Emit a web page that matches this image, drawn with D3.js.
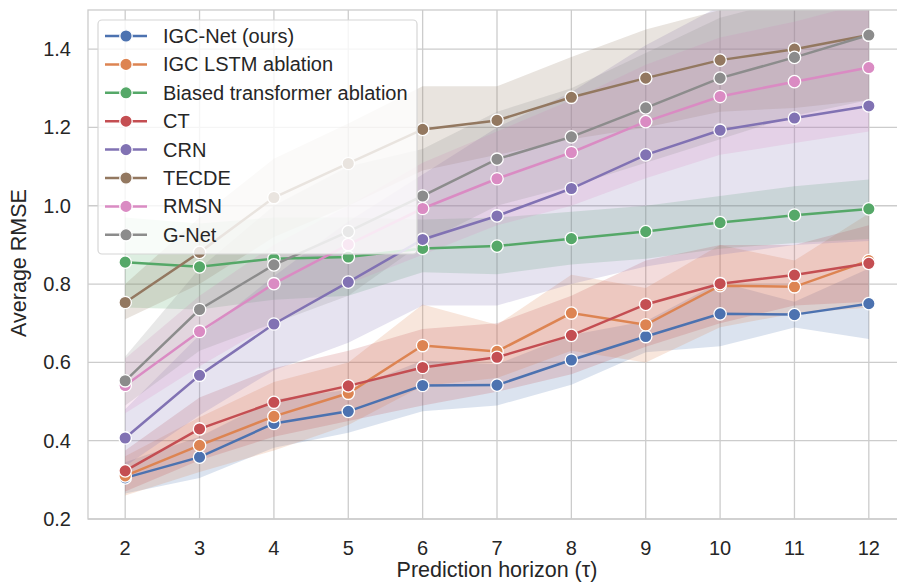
<!DOCTYPE html>
<html>
<head>
<meta charset="utf-8">
<script src="https://cdn.jsdelivr.net/npm/d3@7"></script>
<style>
body{margin:0;background:#fff}
text{font-family:"Liberation Sans",Arial,sans-serif;fill:#262626}
</style>
</head>
<body>
<div id="chart"></div>
<script>
"use strict"
var horizons=[2,3,4,5,6,7,8,9,10,11,12]
var yTicks=[0.2,0.4,0.6,0.8,1.0,1.2,1.4]
var names=["IGC-Net (ours)","IGC LSTM ablation","Biased transformer ablation","CT","CRN","TECDE","RMSN","G-Net"]
var colors=["#4c72b0","#dd8452","#55a868","#c44e52","#8172b3","#937860","#da8bc3","#8c8c8c"]

// mean RMSE per horizon
var igcNet=[0.305,0.358,0.444,0.475,0.541,0.542,0.606,0.666,0.724,0.722,0.750]
var igcLstm=[0.31,0.388,0.462,0.521,0.643,0.628,0.726,0.696,0.796,0.793,0.86]
var biasedTr=[0.856,0.844,0.865,0.869,0.891,0.897,0.916,0.934,0.957,0.976,0.992]
var ct=[0.323,0.43,0.498,0.54,0.587,0.613,0.669,0.748,0.801,0.823,0.853]
var crn=[0.407,0.567,0.698,0.805,0.914,0.974,1.044,1.130,1.193,1.224,1.255]
var tecde=[0.753,0.881,1.021,1.108,1.195,1.218,1.277,1.326,1.372,1.400,1.436]
var rmsn=[0.541,0.679,0.801,0.901,0.993,1.069,1.136,1.215,1.279,1.317,1.353]
var gnet=[0.553,0.735,0.849,0.934,1.025,1.119,1.176,1.250,1.326,1.379,1.436]

// confidence band edges
var igcNetLo=[0.265,0.305,0.382,0.42,0.475,0.49,0.543,0.626,0.641,0.689,0.66]
var igcNetHi=[0.345,0.41,0.505,0.53,0.605,0.595,0.67,0.705,0.805,0.755,0.84]
var igcLstmLo=[0.26,0.32,0.375,0.44,0.54,0.56,0.63,0.6,0.69,0.725,0.74]
var igcLstmHi=[0.36,0.46,0.55,0.6,0.748,0.696,0.824,0.79,0.9,0.86,0.98]
var biasedTrLo=[0.74,0.735,0.76,0.77,0.83,0.825,0.85,0.865,0.89,0.905,0.915]
var biasedTrHi=[0.97,0.955,0.97,0.97,0.965,0.97,0.985,1.0,1.025,1.05,1.067]
var ctLo=[0.27,0.35,0.41,0.45,0.49,0.525,0.57,0.64,0.7,0.745,0.755]
var ctHi=[0.375,0.51,0.585,0.63,0.685,0.7,0.77,0.86,0.9,0.9,0.95]
var crnLo=[0.335,0.465,0.58,0.65,0.745,0.745,0.8,0.845,0.875,0.9,0.91]
var crnHi=[0.48,0.67,0.82,0.96,1.08,1.2,1.29,1.41,1.51,1.55,1.6]
var tecdeLo=[0.71,0.8,0.92,1.0,1.09,1.13,1.17,1.2,1.24,1.25,1.27]
var tecdeHi=[0.8,0.97,1.12,1.21,1.305,1.305,1.38,1.45,1.5,1.55,1.6]
var rmsnLo=[0.47,0.59,0.7,0.8,0.875,0.95,1.0,1.07,1.13,1.16,1.19]
var rmsnHi=[0.61,0.77,0.9,1.0,1.11,1.19,1.27,1.36,1.43,1.47,1.52]
var gnetLo=[0.49,0.63,0.7,0.77,0.905,1.0,1.05,1.11,1.17,1.23,1.27]
var gnetHi=[0.615,0.84,1.0,1.1,1.145,1.24,1.3,1.39,1.48,1.53,1.6]

var means=[igcNet,igcLstm,biasedTr,ct,crn,tecde,rmsn,gnet]
var lows=[igcNetLo,igcLstmLo,biasedTrLo,ctLo,crnLo,tecdeLo,rmsnLo,gnetLo]
var highs=[igcNetHi,igcLstmHi,biasedTrHi,ctHi,crnHi,tecdeHi,rmsnHi,gnetHi]

var W=897,H=584
var pLeft=88,pRight=906,pTop=10,pBottom=519

var svg=d3.select('#chart').append('svg').attr('width',W).attr('height',H)

var x=d3.scaleLinear().domain([1.5,12.5]).range([pLeft,pRight])
var y=d3.scaleLinear().domain([0.2,1.5]).range([pBottom,pTop])

svg.append('clipPath').attr('id','plotclip').append('rect')
  .attr('x',pLeft).attr('y',pTop).attr('width',pRight-pLeft).attr('height',pBottom-pTop)

// grid
var grid=svg.append('g')
grid.selectAll('.gx').data(horizons).enter().append('line')
  .attr('x1',d=>x(d)).attr('x2',d=>x(d)).attr('y1',pTop).attr('y2',pBottom)
  .attr('stroke','#cccccc').attr('stroke-width',1.3)
grid.selectAll('.gy').data(yTicks).enter().append('line')
  .attr('x1',pLeft).attr('x2',pRight).attr('y1',d=>y(d)).attr('y2',d=>y(d))
  .attr('stroke','#cccccc').attr('stroke-width',1.3)

var plot=svg.append('g').attr('clip-path','url(#plotclip)')

// bands first, then lines on top
var area=d3.area().x((d,i)=>x(horizons[i])).y0(d=>y(d[0])).y1(d=>y(d[1]))
for(var s=0;s<names.length;s++){
  var band=lows[s].map((v,i)=>[v,highs[s][i]])
  plot.append('path').datum(band).attr('d',area)
    .attr('fill',colors[s]).attr('fill-opacity',0.2).attr('stroke','none')
}
var line=d3.line().x((d,i)=>x(horizons[i])).y(d=>y(d))
for(var s=0;s<names.length;s++){
  plot.append('path').datum(means[s]).attr('d',line)
    .attr('fill','none').attr('stroke',colors[s]).attr('stroke-width',2.5)
  plot.selectAll('.m'+s).data(means[s]).enter().append('circle')
    .attr('cx',(d,i)=>x(horizons[i])).attr('cy',d=>y(d)).attr('r',6.2)
    .attr('fill',colors[s]).attr('stroke','#fff').attr('stroke-width',1.3)
}

// frame
svg.append('rect').attr('x',pLeft).attr('y',pTop).attr('width',pRight-pLeft).attr('height',pBottom-pTop)
  .attr('fill','none').attr('stroke','#cccccc').attr('stroke-width',1.3)

// tick labels
svg.selectAll('.xt').data(horizons).enter().append('text')
  .attr('x',d=>x(d)).attr('y',555).attr('text-anchor','middle').attr('font-size',20)
  .text(d=>d)
svg.selectAll('.yt').data(yTicks).enter().append('text')
  .attr('x',71).attr('y',d=>y(d)+7).attr('text-anchor','end').attr('font-size',20)
  .text(d=>d3.format('.1f')(d))

svg.append('text').attr('x',497).attr('y',577).attr('text-anchor','middle')
  .attr('font-size',21.5).text('Prediction horizon (τ)')
svg.append('text').attr('transform','translate(26,263) rotate(-90)').attr('text-anchor','middle')
  .attr('font-size',21.5).text('Average RMSE')

// legend
var lg=svg.append('g')
lg.append('rect').attr('x',98).attr('y',20).attr('width',319).attr('height',234).attr('rx',4)
  .attr('fill','#fff').attr('fill-opacity',0.8).attr('stroke','#d6d6d6').attr('stroke-width',1.2)
names.forEach(function(n,i){
  var cy=36+i*28.4
  lg.append('line').attr('x1',105).attr('x2',147).attr('y1',cy).attr('y2',cy)
    .attr('stroke',colors[i]).attr('stroke-width',2.5)
  lg.append('circle').attr('cx',126).attr('cy',cy).attr('r',6.2)
    .attr('fill',colors[i]).attr('stroke','#fff').attr('stroke-width',1.3)
  lg.append('text').attr('x',163).attr('y',cy+7).attr('font-size',20).text(n)
})
</script>
</body>
</html>
